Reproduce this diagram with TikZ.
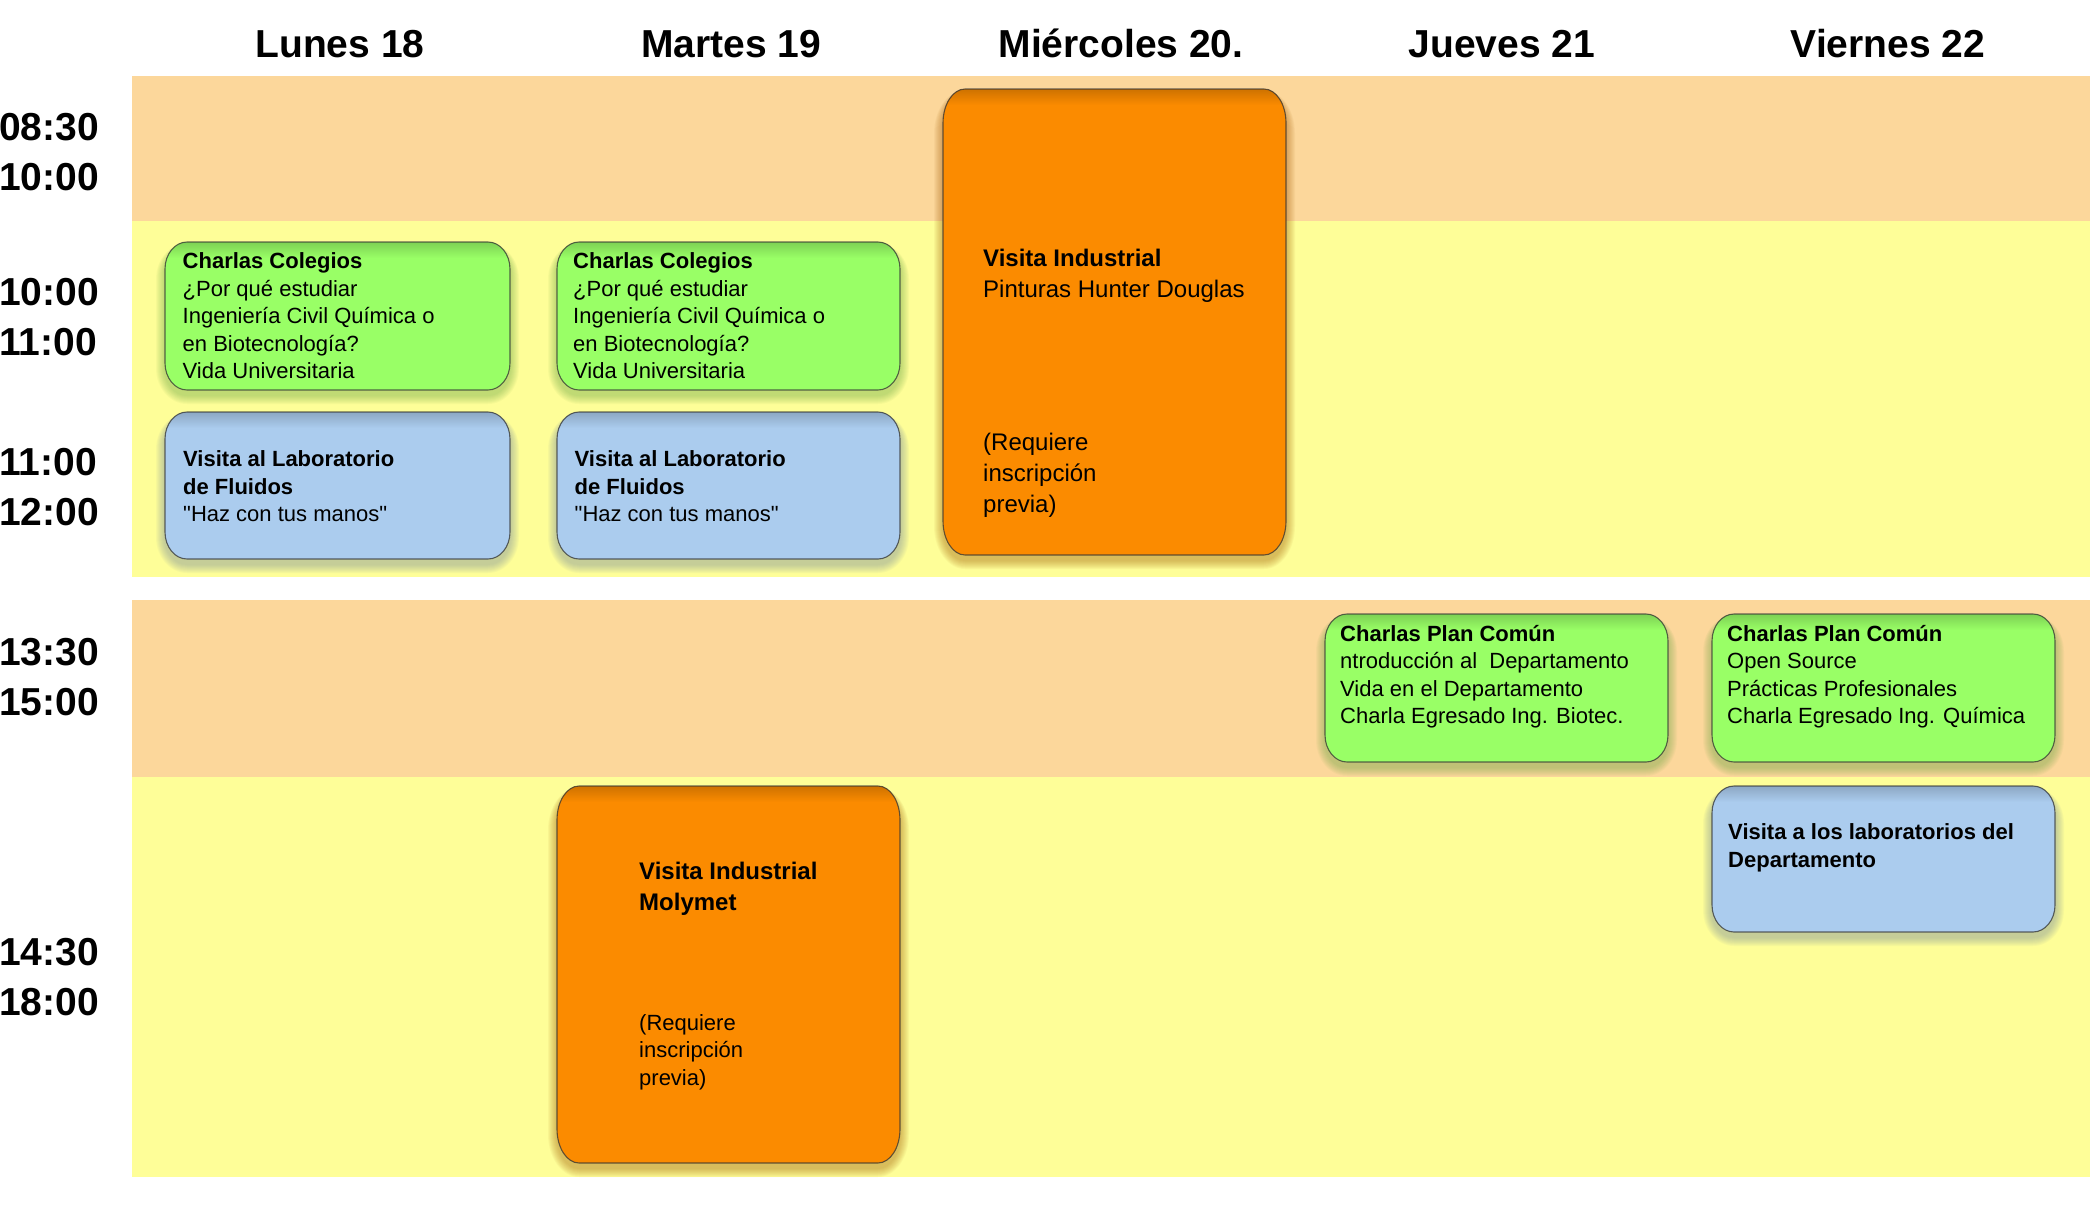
\documentclass[tikz,border=0pt]{standalone}
\usepackage{fontspec}
\setmainfont{Liberation Sans}[Ligatures=TeXOff]
\definecolor{peach}{RGB}{252,215,155}
\definecolor{lyellow}{RGB}{254,254,152}
\definecolor{boxgreen}{RGB}{153,255,102}
\definecolor{boxblue}{RGB}{171,204,238}
\definecolor{boxorange}{RGB}{251,139,0}
% rounded rectangle with elliptical corners: [opts]{x1}{y1}{x2}{y2}{rx}{ry}
\newcommand\rrp[7][]{\path[#1] (#2+#6,#3) -- (#4-#6,#3) .. controls (#4-0.448*#6,#3) and (#4,#3+0.448*#7) .. (#4,#3+#7) -- (#4,#5-#7) .. controls (#4,#5-0.448*#7) and (#4-0.448*#6,#5) .. (#4-#6,#5) -- (#2+#6,#5) .. controls (#2+0.448*#6,#5) and (#2,#5-0.448*#7) .. (#2,#5-#7) -- (#2,#3+#7) .. controls (#2,#3+0.448*#7) and (#2+0.448*#6,#3) .. (#2+#6,#3) -- cycle;}
% event box: {name}{x1}{y1}{x2}{y2}{colour}{ry}
\newcommand\evbox[7]{%
  \foreach \g in {1,...,9}{%
    \pgfmathsetmacro\ga{#2-\g}\pgfmathsetmacro\gb{#3-0.4*\g+5}%
    \pgfmathsetmacro\gc{#4+\g}\pgfmathsetmacro\gd{#5+\g+5}%
    \pgfmathsetmacro\gr{22+\g}\pgfmathsetmacro\gs{#7+\g}%
    \rrp[fill=#6!65!black,fill opacity=0.05]{\ga}{\gb}{\gc}{\gd}{\gr}{\gs}%
  }%
  \rrp[fill=#6]{#2}{#3}{#4}{#5}{22}{#7}%
  \begin{scope}
    \rrp[clip]{#2}{#3}{#4}{#5}{22}{#7}%
    \shade[top color=#6!82!black, bottom color=#6] (#2,#3) rectangle (#4,#3+16);
  \end{scope}
  \rrp[draw=black!80, draw opacity=0.75, line width=1.1]{#2}{#3}{#4}{#5}{22}{#7}%
  \coordinate (#1) at ({(#2+#4)/2},{(#3+#5)/2});
}
\newcommand\stacklines[1]{\vtop{\halign{##\hfil\cr#1\crcr}}}
\tikzset{
  hdr/.style={font=\fontsize{39}{47}\selectfont\bfseries, anchor=base, inner sep=0},
  tm/.style={font=\fontsize{39}{50}\selectfont\bfseries, anchor=base west, inner sep=0},
  txt/.style={font=\fontsize{22}{27.6}\selectfont, anchor=base west, inner sep=0},
  txtl/.style={font=\fontsize{24}{31}\selectfont, anchor=base west, inner sep=0},
}
\begin{document}
\begin{tikzpicture}[x=1pt,y=-1pt]
\useasboundingbox (0,0) rectangle (2090,1223);
\fill[white] (0,0) rectangle (2090,1223);
% bands
\fill[peach] (132,76) rectangle (2090,221);
\fill[lyellow] (132,221) rectangle (2090,577);
\fill[peach] (132,600) rectangle (2090,777);
\fill[lyellow] (132,777) rectangle (2090,1177);
% headers
\node[hdr] (h1) at (340,58) {Lunes 18};
\node[hdr] (h2) at (731,58) {Martes 19};
\node[hdr] (h3) at (1121,58) {Miércoles 20.};
\node[hdr] (h4) at (1502,58) {Jueves 21};
\node[hdr] (h5) at (1888,58) {Viernes 22};
% times
\node[tm] (t1) at (-1,140) {\stacklines{08:30\cr 10:00\cr}};
\node[tm] (t2) at (-1,305) {\stacklines{10:00\cr 11:00\cr}};
\node[tm] (t3) at (-1,475) {\stacklines{11:00\cr 12:00\cr}};
\node[tm] (t4) at (-1,665.5) {\stacklines{13:30\cr 15:00\cr}};
\node[tm] (t5) at (-1,965) {\stacklines{14:30\cr 18:00\cr}};
% boxes
\evbox{bwed}{943}{89}{1286}{555}{boxorange}{34}
\evbox{bmong}{165}{242}{510}{390}{boxgreen}{27}
\evbox{btueg}{557}{242}{900}{390}{boxgreen}{27}
\evbox{bmonb}{165}{412}{510}{559}{boxblue}{27}
\evbox{btueb}{557}{412}{900}{559}{boxblue}{27}
\evbox{bthug}{1325}{614}{1668}{762}{boxgreen}{27}
\evbox{bfrig}{1712}{614}{2055}{762}{boxgreen}{27}
\evbox{bfrib}{1712}{786}{2055}{932}{boxblue}{27}
\evbox{btueo}{557}{786}{900}{1163}{boxorange}{34}
% texts
\node[txt] (x1) at (182.5,268.5) {\stacklines{\bfseries Charlas Colegios\cr ¿Por qué estudiar\cr Ingeniería Civil Química o\cr en Biotecnología?\cr Vida Universitaria\cr}};
\node[txt] (x2) at (573,268.5) {\stacklines{\bfseries Charlas Colegios\cr ¿Por qué estudiar\cr Ingeniería Civil Química o\cr en Biotecnología?\cr Vida Universitaria\cr}};
\node[txt] (x3) at (183,466.5) {\stacklines{\bfseries Visita al Laboratorio\cr \bfseries de Fluidos\cr "Haz con tus manos"\cr}};
\node[txt] (x4) at (574.5,466.5) {\stacklines{\bfseries Visita al Laboratorio\cr \bfseries de Fluidos\cr "Haz con tus manos"\cr}};
\node[txtl] (x5) at (983,266.5) {\stacklines{\bfseries Visita Industrial\cr Pinturas Hunter Douglas\cr}};
\node[txtl] (x6) at (983,450) {\stacklines{(Requiere\cr inscripción\cr previa)\cr}};
\node[txtl] (x7) at (639,879.3) {\stacklines{\bfseries Visita Industrial\cr \bfseries Molymet\cr}};
\node[txt] (x8) at (639,1030) {\stacklines{(Requiere\cr inscripción\cr previa)\cr}};
\node[txt] (x9) at (1340,641) {\stacklines{\bfseries Charlas Plan Común\cr ntroducción al~~Departamento\cr Vida en el Departamento\cr Charla Egresado Ing. Biotec.\cr}};
\node[txt] (x10) at (1727,641) {\stacklines{\bfseries Charlas Plan Común\cr Open Source\cr Prácticas Profesionales\cr Charla Egresado Ing. Química\cr}};
\node[txt] (x11) at (1728,839.6) {\stacklines{\bfseries Visita a los laboratorios del\cr \bfseries Departamento\cr}};
\end{tikzpicture}
\end{document}
